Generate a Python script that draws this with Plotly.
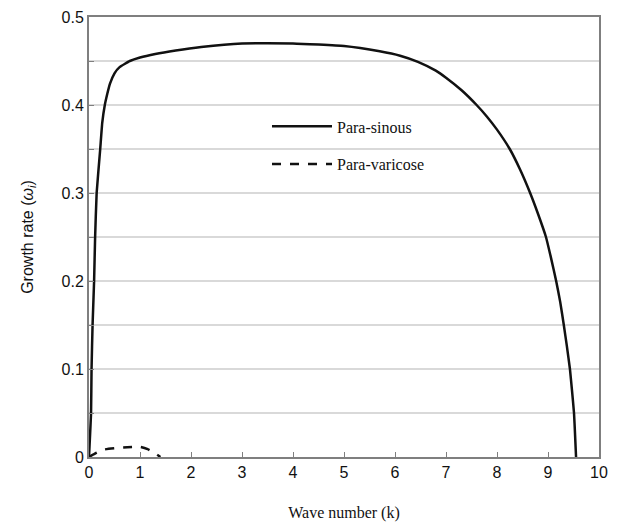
import plotly.graph_objects as go

# Para-sinuous growth-rate curve
k_sinous = [0.0, 0.04, 0.05, 0.07, 0.10, 0.12, 0.15, 0.22, 0.26, 0.31, 0.36, 0.41, 0.50, 0.60, 0.80, 1.0,
            1.3, 1.7, 2.2, 3.0, 4.0, 5.0, 5.7, 6.1, 6.45, 6.8, 7.0, 7.3, 7.6, 7.8, 8.0, 8.25, 8.45,
            8.65, 8.8, 8.96, 9.06, 9.16, 9.24, 9.31, 9.37, 9.43, 9.47, 9.51, 9.53, 9.55]
w_sinous = [0.0, 0.05, 0.10, 0.15, 0.20, 0.25, 0.30, 0.35, 0.38, 0.40, 0.413, 0.424, 0.436, 0.443, 0.450, 0.454,
            0.458, 0.462, 0.466, 0.470, 0.470, 0.467, 0.461, 0.456, 0.449, 0.439, 0.431, 0.417, 0.400, 0.387, 0.372, 0.350, 0.327,
            0.300, 0.277, 0.250, 0.226, 0.200, 0.176, 0.150, 0.126, 0.100, 0.076, 0.050, 0.026, 0.0]

# Para-varicose growth-rate curve
k_varicose = [0.0, 0.15, 0.3, 0.5, 0.75, 1.0, 1.15, 1.3, 1.4]
w_varicose = [0.0, 0.005, 0.0085, 0.010, 0.011, 0.0115, 0.009, 0.004, 0.0]

x_ticks = list(range(0, 11))
y_ticks = [0, 0.1, 0.2, 0.3, 0.4, 0.5]
y_ticktext = ["0", "0.1", "0.2", "0.3", "0.4", "0.5"]

serif = "Liberation Serif"
sans = "Liberation Sans"

fig = go.Figure()
fig.add_trace(go.Scatter(x=k_sinous, y=w_sinous, mode="lines", name="Para-sinous",
                         line=dict(color="#111111", width=2.5, shape="spline", smoothing=0.4),
                         legendgroup="a"))
fig.add_trace(go.Scatter(x=k_varicose, y=w_varicose, mode="lines", name="Para-varicose",
                         line=dict(color="#111111", width=2.5, dash="dash", shape="spline", smoothing=0.6),
                         legendgroup="b"))

fig.update_layout(
    width=604, height=514,
    margin=dict(l=81, r=13, t=9, b=65, autoexpand=False),
    paper_bgcolor="white", plot_bgcolor="white",
    showlegend=True,
    legend=dict(x=0.349, y=0.79, xanchor="left", yanchor="top",
                font=dict(family=serif, size=16, color="#111111"),
                bgcolor="rgba(0,0,0,0)", tracegroupgap=14, traceorder="grouped",
                itemwidth=60),
    xaxis=dict(range=[0, 10], tickvals=x_ticks, ticks="inside", ticklen=5, tickcolor="#7f7f7f",
               showgrid=False, zeroline=False, showline=True, linecolor="#7f7f7f", linewidth=2,
               mirror=True, automargin=False, tickfont=dict(family=sans, size=16, color="#111111"),
               title=dict(text="Wave number (k)", font=dict(family=serif, size=16, color="#111111"),
                          standoff=36)),
    yaxis=dict(range=[0, 0.5], tickvals=y_ticks, ticktext=y_ticktext, ticks="inside", ticklen=5,
               tickcolor="#7f7f7f", showgrid=True, gridcolor="#d9d9d9", gridwidth=1.5,
               minor=dict(dtick=0.05, tick0=0, showgrid=True, gridcolor="#d9d9d9", gridwidth=1.5,
                          ticks="inside", ticklen=5, tickcolor="#7f7f7f"),
               zeroline=False, showline=True, linecolor="#7f7f7f", linewidth=2, mirror=True,
               automargin=False, tickfont=dict(family=sans, size=16, color="#111111"),
               title=dict(text="Growth rate (<i>ω<sub>i</sub></i>)",
                          font=dict(family=sans, size=16, color="#111111"), standoff=24)),
)

fig.write_html("out.html")
